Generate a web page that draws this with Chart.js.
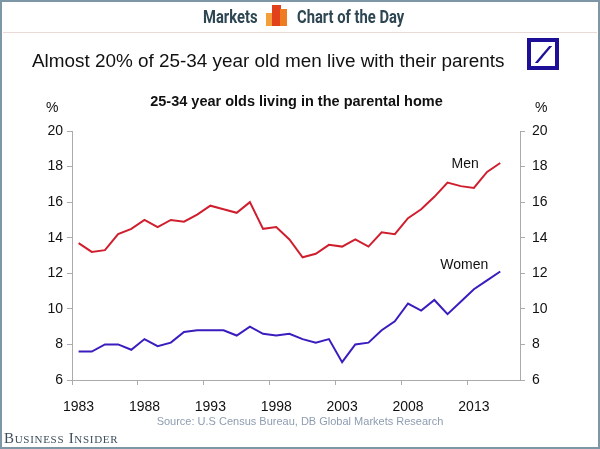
<!DOCTYPE html>
<html>
<head>
<meta charset="utf-8">
<script src="https://cdn.jsdelivr.net/npm/chart.js@4.4.1/dist/chart.umd.min.js"></script>
<style>
  html, body { margin: 0; padding: 0; background: #fff; }
  #wrap { position: relative; width: 600px; height: 449px; overflow: hidden; background: #fff; font-family: "Liberation Sans", Arial, sans-serif; }
  #frame { position: absolute; left: 0; top: 0; width: 596px; height: 445px; border: 2px solid #7d97a7; pointer-events: none; }
  #graph { position: absolute; left: 0; top: 0; }
  .txt { position: absolute; white-space: nowrap; }
  #hdr { position: absolute; top: 6px; left: 0; width: 600px; height: 22px; }
  #hdr .w { position: absolute; top: 0; font-family: Roboto, sans-serif; font-weight: 700; font-size: 18px; color: #2e4652; transform-origin: left top; transform: scaleX(0.82); line-height: 22px; }
  .bar { position: absolute; }
  #hline { position: absolute; left: 3px; top: 32px; width: 594px; height: 1px; background: #ead9d5; }
  #title { left: 32px; top: 50px; font-size: 18.9px; color: #111; }
  #sub { left: 0; width: 593px; text-align: center; top: 93px; font-size: 14.5px; font-weight: 700; color: #111; }
  #logo { position: absolute; left: 527px; top: 38px; width: 24px; height: 24px; border: 4px solid #1d0f98; }
  #slash { position: absolute; left: 11px; top: 4px; width: 3px; height: 17px; background: #1d0f98; transform: skewX(-40deg); }
  .pct { top: 99px; font-size: 14px; color: #111; }
  #src { left: 0; width: 600px; text-align: center; top: 415px; font-size: 11px; color: #8d9db0; }
  #bi { left: 4px; top: 430px; font-family: "Liberation Serif", serif; font-variant: small-caps; font-size: 15px; letter-spacing: 0.7px; color: #3c4e5b; }
</style>
</head>
<body>
<div id="wrap">
  <canvas id="graph" width="600" height="449"></canvas>
  <div id="hdr">
    <span class="w" style="left:203px">Markets</span>
    <div class="bar" style="left:266px; top:7px; width:7px; height:13px; background:#f4a03a"></div>
    <div class="bar" style="left:272px; top:-1px; width:9px; height:21px; background:#e2421b"></div>
    <div class="bar" style="left:280px; top:3px; width:7px; height:17px; background:#f07c22"></div>
    <span class="w" style="left:297px">Chart of the Day</span>
  </div>
  <div id="hline"></div>
  <div class="txt" id="title">Almost 20% of 25-34 year old men live with their parents</div>
  <div id="logo"><div id="slash"></div></div>
  <div class="txt" id="sub">25-34 year olds living in the parental home</div>
  <div class="txt pct" style="left:46px">%</div>
  <div class="txt pct" style="left:535px">%</div>
  <div class="txt" id="src">Source: U.S Census Bureau, DB Global Markets Research</div>
  <div class="txt" id="bi">Business Insider</div>
  <div id="frame"></div>
</div>
<script>
const canvas = document.querySelector('#graph');
const ctx = canvas.getContext('2d');

// years on the category axis (2016 is an empty slot at the end)
const years = [1983, 1984, 1985, 1986, 1987, 1988, 1989, 1990, 1991, 1992,
               1993, 1994, 1995, 1996, 1997, 1998, 1999, 2000, 2001, 2002,
               2003, 2004, 2005, 2006, 2007, 2008, 2009, 2010, 2011, 2012,
               2013, 2014, 2015, 2016];
const labelYears = [1983, 1988, 1993, 1998, 2003, 2008, 2013];

const men = [13.7, 13.2, 13.3, 14.2, 14.5, 15.0, 14.6, 15.0, 14.9, 15.3,
             15.8, 15.6, 15.4, 16.0, 14.5, 14.6, 13.9, 12.9, 13.1, 13.6,
             13.5, 13.9, 13.5, 14.3, 14.2, 15.1, 15.6, 16.3, 17.1, 16.9,
             16.8, 17.7, 18.2];
const women = [7.6, 7.6, 8.0, 8.0, 7.7, 8.3, 7.9, 8.1, 8.7, 8.8,
               8.8, 8.8, 8.5, 9.0, 8.6, 8.5, 8.6, 8.3, 8.1, 8.3,
               7.0, 8.0, 8.1, 8.8, 9.3, 10.3, 9.9, 10.5, 9.7, 10.4,
               11.1, 11.6, 12.1];

const yMin = 6, yMax = 20, yStep = 2;

const axisGrey = '#ababab';
const tickFont = { family: '"Liberation Sans", Arial, sans-serif', size: 14 };

// writes the series name next to the end of each line
const endLabels = {
  id: 'endLabels',
  afterDatasetsDraw(chart) {
    const c = chart.ctx;
    c.save();
    c.font = '14px "Liberation Sans", Arial, sans-serif';
    c.fillStyle = '#111';
    c.textAlign = 'center';
    c.textBaseline = 'middle';
    chart.data.datasets.forEach((ds, i) => {
      const pts = chart.getDatasetMeta(i).data;
      const last = pts[pts.length - 1];
      c.fillText(ds.label, last.x + ds.tagDx, last.y + ds.tagDy);
    });
    c.restore();
  }
};

const chart = new Chart(ctx, {
  type: 'line',
  data: {
    labels: years,
    datasets: [{
      label: 'Men',
      data: men,
      borderColor: '#cf1f2e',
      borderWidth: 2,
      pointRadius: 0,
      tension: 0,
      tagDx: -35, tagDy: 1
    }, {
      label: 'Women',
      data: women,
      borderColor: '#3a1cbf',
      borderWidth: 2,
      pointRadius: 0,
      tension: 0,
      tagDx: -36, tagDy: -6
    }]
  },
  options: {
    responsive: false,
    animation: false,
    layout: { padding: { top: 131, left: 0, right: 0, bottom: 0 } },
    plugins: { legend: { display: false }, tooltip: { enabled: false } },
    scales: {
      x: {
        type: 'category',
        offset: true,
        border: { color: axisGrey, width: 1 },
        grid: {
          offset: true,
          drawOnChartArea: false,
          tickLength: 5,
          color: (c) => (c.tick && labelYears.includes(years[c.index])) || c.index === years.length ? axisGrey : 'rgba(0,0,0,0)'
        },
        ticks: {
          autoSkip: false,
          maxRotation: 0,
          padding: 14,
          color: '#111',
          font: tickFont,
          callback: (v, i) => labelYears.includes(years[i]) ? String(years[i]) : ''
        },
        afterFit: (s) => { s.height = 69; }
      },
      y: {
        position: 'left',
        min: yMin, max: yMax,
        border: { color: axisGrey, width: 1 },
        grid: { drawOnChartArea: false, tickLength: 5, color: axisGrey },
        ticks: { stepSize: yStep, padding: 4, color: '#111', font: tickFont },
        afterFit: (s) => { s.width = 72; }
      },
      y2: {
        position: 'right',
        min: yMin, max: yMax,
        border: { color: axisGrey, width: 1 },
        grid: { drawOnChartArea: false, tickLength: 5, color: axisGrey },
        ticks: { stepSize: yStep, padding: 7, color: '#111', font: tickFont },
        afterFit: (s) => { s.width = 80; }
      }
    }
  },
  plugins: [endLabels]
});
</script>
</body>
</html>
